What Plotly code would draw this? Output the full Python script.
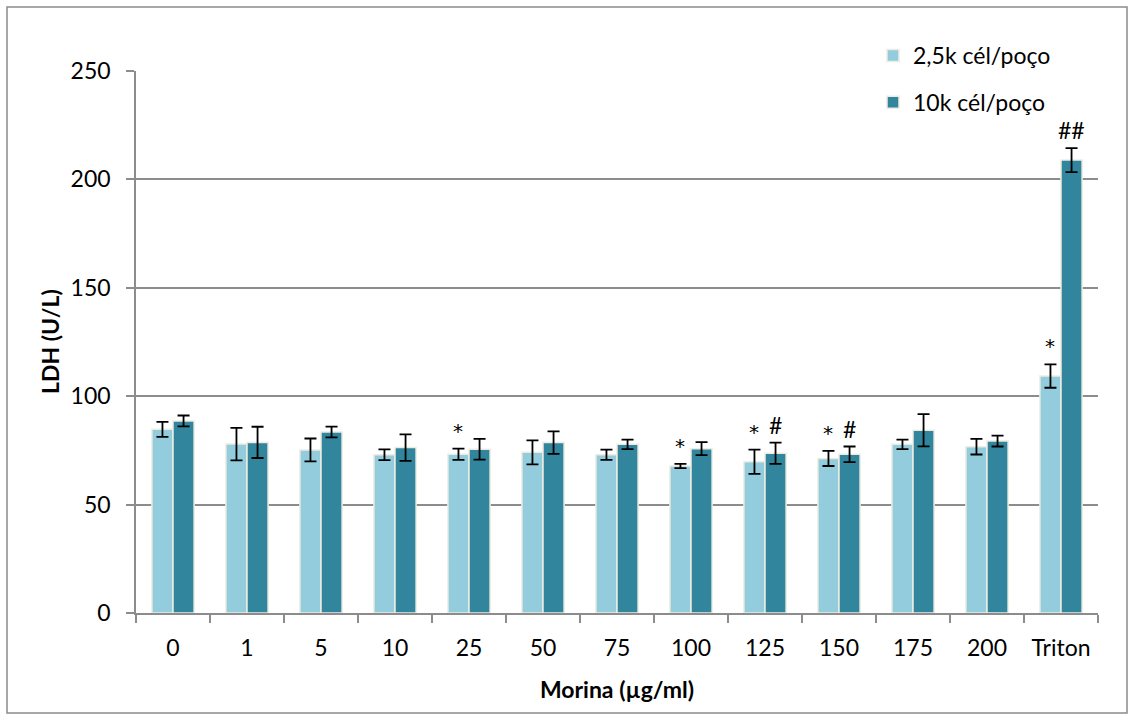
import plotly.graph_objects as go

categories = ["0", "1", "5", "10", "25", "50", "75", "100", "125", "150", "175", "200", "Triton"]
low_density = [84.7, 77.9, 75.2, 73.0, 73.2, 74.1, 73.0, 67.8, 69.8, 71.3, 77.8, 76.7, 109.3]
low_err = [3.5, 7.5, 5.3, 2.5, 2.6, 5.5, 2.4, 1.0, 5.6, 3.5, 2.2, 3.6, 5.4]
high_density = [88.6, 78.7, 83.5, 76.3, 75.5, 78.6, 77.8, 75.8, 73.7, 73.2, 84.3, 79.3, 208.9]
high_err = [2.5, 7.2, 2.5, 6.1, 4.8, 5.2, 2.2, 3.0, 4.9, 3.6, 7.4, 2.5, 5.5]
low_marks = ["", "", "", "", "*", "", "", "*", "*", "*", "", "", "*"]
high_marks = ["", "", "", "", "", "", "", "", "#", "#", "", "", "##"]
series_names = ["2,5k cél/poço", "10k cél/poço"]
y_ticks = [0, 50, 100, 150, 200, 250]

FONT = "Lato, Liberation Sans, sans-serif"
LIGHT = "#93CDDD"
DARK = "#31859C"
EDGE = "#EEECE1"
GRID = "#8C8C8C"
FS = 23

W, H = 1135, 720
L, R, T, B = 136, 37, 71, 107
pw, ph = W - L - R, H - T - B

fig = go.Figure()
fig.add_trace(go.Bar(
    x=categories, y=low_density, name=series_names[0], legendgroup="a",
    marker=dict(color=LIGHT, line=dict(color=EDGE, width=1.5)),
    error_y=dict(type="data", array=low_err, color="black", thickness=1.8, width=6),
))
fig.add_trace(go.Bar(
    x=categories, y=high_density, name=series_names[1], legendgroup="b",
    marker=dict(color=DARK, line=dict(color=EDGE, width=1.5)),
    error_y=dict(type="data", array=high_err, color="black", thickness=1.8, width=6),
))

bargap = 0.43
cat_px = pw / len(categories)
bar_px = cat_px * (1 - bargap) / 2

annotations = []
for i, c in enumerate(categories):
    for marks, vals, errs, sign in ((low_marks, low_density, low_err, -1),
                                    (high_marks, high_density, high_err, 1)):
        m = marks[i]
        if m:
            star = m == "*"
            annotations.append(dict(
                x=i, y=vals[i] + errs[i], xref="x", yref="y", text=m,
                showarrow=False, yanchor="bottom", xanchor="center",
                xshift=sign * bar_px / 2,
                yshift=4 if star else 2,
                font=dict(family="DejaVu Sans, sans-serif" if star else FONT,
                          size=20 if star else FS, color="black"),
            ))

# y-axis title placed as a rotated annotation
annotations.append(dict(
    x=(50 - L) / pw, y=0.5, xref="paper", yref="paper",
    text="<b>LDH (U/L)</b>", textangle=-90, showarrow=False,
    xanchor="center", yanchor="middle",
    font=dict(family=FONT, size=FS, color="black"),
))

fig.update_layout(
    width=W, height=H,
    margin=dict(l=L, r=R, t=T, b=B, autoexpand=False),
    paper_bgcolor="white", plot_bgcolor="white",
    barmode="group", bargap=bargap, bargroupgap=0,
    font=dict(family=FONT, size=FS, color="black"),
    showlegend=True,
    legend=dict(
        x=(873 - L) / pw, y=(H - B - 34) / ph, xanchor="left", yanchor="top",
        bgcolor="rgba(0,0,0,0)", font=dict(family=FONT, size=FS, color="black"),
        tracegroupgap=14, traceorder="grouped",
    ),
    annotations=annotations,
    shapes=[dict(
        type="rect", xref="paper", yref="paper",
        x0=(7 - L) / pw, x1=(1127 - L) / pw,
        y0=(H - B - 713) / ph, y1=(H - B - 7) / ph,
        line=dict(color=GRID, width=1.5), fillcolor="rgba(0,0,0,0)", layer="below",
    )],
)

fig.update_xaxes(
    type="category", showline=True, linecolor=GRID, linewidth=1.5,
    ticks="outside", ticklen=8, tickcolor=GRID, tickwidth=1.5,
    tickson="boundaries", showgrid=False, automargin=False, tickangle=0,
    range=[-0.5, len(categories) - 0.5],
    tickfont=dict(family=FONT, size=FS),
    ticklabelstandoff=14,
    title=dict(text="<b>Morina (µg/ml)</b>", font=dict(family=FONT, size=FS), standoff=22),
)
fig.update_yaxes(
    range=[0, 250], tickvals=y_ticks, showline=True, linecolor=GRID, linewidth=1.5,
    ticks="outside", ticklen=8, tickcolor=GRID, tickwidth=1.5,
    showgrid=True, gridcolor=GRID, gridwidth=1.5, zeroline=False, automargin=False,
    tickfont=dict(family=FONT, size=FS),
    ticklabelstandoff=11,
)

fig.write_html("out.html", config={"displayModeBar": False},
               post_script="document.body.style.margin='0px';")
